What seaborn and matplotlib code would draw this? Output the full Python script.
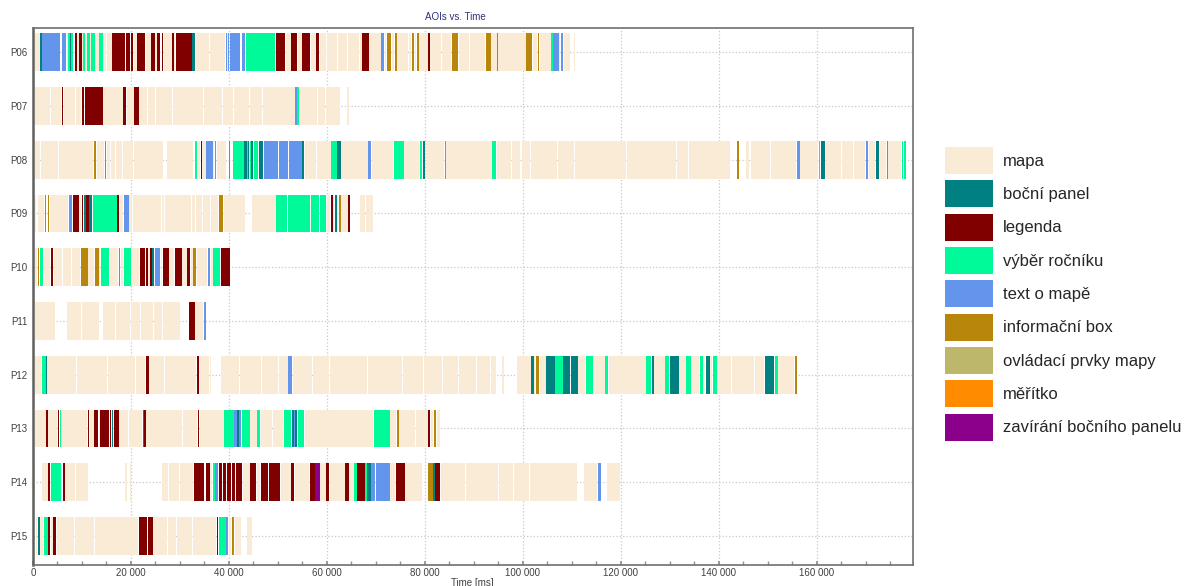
import matplotlib
matplotlib.use("Agg")
import matplotlib.pyplot as plt
from matplotlib.patches import Patch
from matplotlib.ticker import FuncFormatter, MultipleLocator
import pandas as pd
import seaborn as sns

# AOI categories
aoi_keys = ["M", "B", "L", "V", "T", "I", "O", "R", "Z"]
aoi_labels = ["mapa", "boční panel", "legenda", "výběr ročníku", "text o mapě",
              "informační box", "ovládací prvky mapy", "měřítko",
              "zavírání bočního panelu"]
aoi_colors = ["#FAEBD7", "#008080", "#800000", "#00FA9A", "#6495ED",
              "#B8860B", "#BDB76B", "#FF8C00", "#8B008B"]

participants = ["P06", "P07", "P08", "P09", "P10", "P11", "P12", "P13", "P14", "P15"]

# fixations per participant: (start ms, end ms, AOI)
p06 = [(0, 1400, "M"), (1500, 1800, "B"), (1900, 4000, "T"), (4100, 5600, "T"),
       (6000, 6800, "T"), (6850, 7150, "M"), (7200, 7600, "V"), (7600, 7800, "B"),
       (7800, 8200, "V"), (8500, 9000, "L"), (9000, 9300, "M"), (9300, 10000, "L"),
       (10000, 10200, "M"), (10200, 10700, "V"), (10700, 11000, "M"), (11000, 11600, "V"),
       (11600, 11900, "M"), (11900, 12600, "V"), (12600, 13400, "M"), (13400, 14200, "V"),
       (14300, 15000, "M"), (15100, 16100, "M"), (16200, 18700, "L"), (18900, 19800, "L"),
       (19900, 20500, "L"), (20600, 21200, "M"), (21300, 22900, "L"), (23000, 24000, "M"),
       (24100, 25000, "L"), (25000, 25300, "M"), (25300, 26000, "L"), (26100, 26200, "M"),
       (26300, 26600, "L"), (26700, 28300, "M"), (28400, 28700, "L"), (28700, 29000, "M"),
       (29100, 32400, "L"), (32500, 33100, "B"), (33200, 34600, "M"), (34700, 36000, "M"),
       (36100, 37500, "M"), (37600, 39100, "M"), (39300, 39500, "T"), (39500, 39800, "M"),
       (39800, 40100, "T"), (40300, 42300, "T"), (42700, 43300, "T"), (43500, 45700, "V"),
       (45800, 46700, "V"), (46800, 49400, "V"), (49500, 51500, "L"), (51600, 52600, "M"),
       (52700, 53900, "L"), (54000, 54800, "M"), (54900, 56600, "L"), (56700, 57700, "M"),
       (57800, 58300, "L"), (58500, 59900, "M"), (60000, 62100, "M"), (62200, 64100, "M"),
       (64200, 66600, "M"), (66700, 67100, "M"), (67200, 68500, "L"), (68600, 71000, "M"),
       (71100, 71600, "T"), (71800, 72100, "M"), (72200, 73100, "I"), (73200, 73700, "M"),
       (73800, 74200, "I"), (74300, 76600, "M"), (76700, 77200, "M"), (77300, 77800, "I"),
       (77900, 78200, "M"), (78300, 78700, "I"), (78800, 80600, "M"), (80700, 81000, "L"),
       (81100, 83300, "M"), (83400, 85400, "M"), (85500, 86800, "I"), (86900, 89000, "M"),
       (89100, 92300, "M"), (92400, 93400, "I"), (93500, 94600, "M"), (94700, 94900, "I"),
       (95000, 97500, "M"), (97600, 100600, "M"), (100700, 101900, "I"), (102000, 102900, "M"),
       (103000, 103300, "I"), (103400, 105700, "M"), (105800, 106200, "V"), (106200, 107300, "T"),
       (107400, 107600, "M"), (107700, 108200, "T"), (108300, 109600, "M"), (110400, 110700, "M")]

p07 = [(300, 3500, "M"), (3600, 5800, "M"), (5900, 6200, "L"), (6300, 8600, "M"),
       (8700, 9800, "M"), (9900, 10500, "L"), (10600, 11400, "L"), (11500, 14200, "L"),
       (14300, 16500, "M"), (16600, 18300, "M"), (18400, 19000, "L"), (19100, 20600, "M"),
       (20700, 21600, "L"), (21700, 23300, "M"), (23400, 25000, "M"), (25100, 26900, "M"),
       (27000, 28400, "M"), (28500, 31200, "M"), (31300, 31600, "M"), (31700, 34700, "M"),
       (34800, 36300, "M"), (36400, 38600, "M"), (38700, 40900, "M"), (41000, 44100, "M"),
       (44200, 46800, "M"), (46900, 49500, "M"), (49600, 53400, "M"), (53500, 53800, "T"),
       (53900, 54200, "V"), (54300, 55700, "M"), (55800, 56900, "M"), (57000, 58000, "M"),
       (58100, 59600, "M"), (59700, 62700, "M"), (64000, 64500, "M")]

p08 = [(0, 1400, "M"), (1600, 4200, "M"), (4300, 5200, "M"), (5300, 9300, "M"),
       (9400, 12300, "M"), (12400, 12900, "I"), (13000, 14400, "M"), (14600, 14900, "I"),
       (15100, 15800, "M"), (15900, 16800, "M"), (16900, 17500, "M"), (17600, 18200, "M"),
       (18300, 20500, "M"), (20700, 24000, "M"), (24100, 26600, "M"), (27400, 30000, "M"),
       (30100, 32700, "M"), (33000, 33500, "V"), (33600, 34100, "M"), (34200, 34400, "L"),
       (34500, 35300, "M"), (35400, 36700, "T"), (36800, 37000, "M"), (37100, 37400, "T"),
       (37600, 39400, "M"), (40100, 40300, "I"), (40800, 42600, "V"), (42700, 43000, "V"),
       (43000, 43600, "B"), (43600, 43800, "V"), (43800, 44100, "B"), (44200, 44500, "V"),
       (44500, 45000, "B"), (45200, 46000, "V"), (46200, 47000, "B"), (47100, 50100, "T"),
       (50200, 50800, "T"), (50900, 52100, "T"), (52200, 54800, "T"), (54900, 55400, "B"),
       (55500, 57800, "M"), (57900, 60800, "M"), (60900, 62000, "V"), (62100, 62800, "B"),
       (62900, 65500, "M"), (65600, 68300, "M"), (68400, 69000, "T"), (69100, 71600, "M"),
       (71700, 73500, "M"), (73600, 75700, "V"), (75800, 78800, "M"), (78900, 79300, "V"),
       (79500, 80100, "B"), (80200, 83900, "M"), (84000, 84200, "T"), (84300, 86500, "M"),
       (86600, 89800, "M"), (89900, 93600, "M"), (93700, 94500, "V"), (94600, 95500, "M"),
       (95600, 97600, "M"), (97700, 99400, "M"), (99900, 101500, "M"), (101600, 104000, "M"),
       (104100, 107000, "M"), (107100, 110500, "M"), (110600, 113000, "M"), (113100, 115700, "M"),
       (115800, 118100, "M"), (118200, 121100, "M"), (121200, 126900, "M"), (127000, 131300, "M"),
       (131400, 133700, "M"), (133800, 139500, "M"), (139600, 142300, "M"), (143700, 144100, "I"),
       (145500, 146200, "M"), (146600, 150500, "M"), (150600, 155800, "M"), (155900, 156500, "T"),
       (156600, 160300, "M"), (160400, 160700, "V"), (160800, 161700, "B"), (161800, 163200, "M"),
       (163300, 165000, "M"), (165100, 167400, "M"), (167500, 169900, "M"), (170000, 170500, "T"),
       (170600, 171900, "M"), (172000, 172700, "B"), (172800, 174100, "M"), (174200, 174500, "I"),
       (174600, 177200, "M"), (177300, 177600, "V"), (177700, 178200, "V")]

p09 = [(0, 700, "M"), (1100, 2300, "M"), (2400, 2700, "I"), (3000, 3300, "I"),
       (3400, 5500, "M"), (5600, 7200, "M"), (7300, 8000, "T"), (8100, 9400, "L"),
       (9400, 9800, "M"), (9900, 10300, "L"), (10500, 10900, "B"), (10900, 11500, "L"),
       (11500, 12100, "B"), (12200, 17200, "V"), (17200, 17600, "L"), (17700, 18400, "M"),
       (18500, 19500, "T"), (19600, 20200, "M"), (20400, 26100, "M"), (26300, 26800, "M"),
       (27000, 32300, "M"), (32500, 33100, "M"), (33300, 34500, "M"), (34700, 36200, "M"),
       (36400, 37800, "M"), (37900, 38800, "I"), (38900, 43300, "M"), (44600, 49500, "M"),
       (49600, 51800, "V"), (52000, 56600, "V"), (56800, 58300, "V"), (58500, 59900, "V"),
       (60000, 60600, "M"), (60800, 61200, "L"), (61300, 61500, "M"), (61700, 62000, "B"),
       (62100, 62300, "M"), (62400, 62800, "I"), (62900, 64200, "M"), (64300, 64700, "L"),
       (66700, 67700, "M"), (67900, 69400, "M")]

p10 = [(500, 900, "M"), (1000, 1200, "I"), (1400, 2100, "V"), (2200, 3500, "M"),
       (3600, 4100, "L"), (4200, 6000, "M"), (6100, 7800, "M"), (7900, 9600, "M"),
       (9700, 11200, "I"), (11300, 12500, "M"), (12600, 13400, "I"), (13500, 13700, "M"),
       (13800, 15600, "V"), (15700, 17400, "M"), (17600, 17800, "I"), (17900, 18400, "M"),
       (18500, 20000, "V"), (20100, 21700, "M"), (21800, 22900, "L"), (23000, 23400, "L"),
       (23500, 23800, "M"), (23900, 24300, "L"), (24300, 24600, "B"), (25000, 26000, "T"),
       (26100, 26400, "M"), (26500, 27700, "L"), (27800, 28800, "M"), (28900, 30400, "L"),
       (30500, 31400, "M"), (31500, 32100, "L"), (32200, 32600, "M"), (32700, 33300, "I"),
       (33400, 35600, "M"), (35700, 36200, "T"), (36300, 36700, "M"), (36800, 38200, "V"),
       (38300, 39100, "L"), (39200, 39800, "L"), (39900, 40300, "L")]

p11 = [(200, 2000, "M"), (2100, 4500, "M"), (7000, 9800, "M"), (9900, 13500, "M"),
       (14300, 16700, "M"), (16900, 19800, "M"), (20000, 21800, "M"), (22000, 24500, "M"),
       (24700, 26400, "M"), (26600, 30000, "M"), (31900, 33000, "L"), (33100, 34700, "M"),
       (35000, 35400, "T")]

p12 = [(0, 1700, "M"), (1800, 2600, "V"), (2600, 2800, "B"), (2900, 5500, "M"),
       (5600, 8800, "M"), (8900, 12000, "M"), (12100, 15200, "M"), (15300, 18500, "M"),
       (18600, 20900, "M"), (21000, 22900, "M"), (23000, 23600, "L"), (23700, 26800, "M"),
       (26900, 30000, "M"), (30100, 33300, "M"), (33400, 33800, "L"), (33900, 35900, "M"),
       (36100, 36300, "M"), (38300, 42100, "M"), (42200, 46600, "M"), (46700, 50100, "M"),
       (50200, 52000, "M"), (52100, 52900, "T"), (53000, 57000, "M"), (57100, 60500, "M"),
       (60600, 64400, "M"), (64500, 68200, "M"), (68300, 72200, "M"), (72300, 75400, "M"),
       (75500, 79600, "M"), (79700, 83500, "M"), (83600, 86800, "M"), (86900, 90500, "M"),
       (90600, 93300, "M"), (93500, 94500, "M"), (95700, 96100, "M"), (98800, 101600, "M"),
       (101700, 102200, "B"), (102300, 102500, "M"), (102700, 103300, "I"), (103400, 104600, "M"),
       (104700, 106500, "B"), (106600, 108100, "V"), (108200, 109600, "B"), (109800, 111200, "B"),
       (111300, 112700, "M"), (112800, 114200, "V"), (114300, 116700, "M"), (116800, 117400, "V"),
       (117500, 121000, "M"), (121100, 125100, "M"), (125200, 126200, "V"), (126300, 126700, "B"),
       (126800, 128900, "M"), (129000, 129900, "V"), (130000, 131800, "B"), (131900, 133200, "M"),
       (133300, 134200, "V"), (134300, 136000, "M"), (136100, 136700, "V"), (136800, 137200, "M"),
       (137300, 138100, "B"), (138200, 138600, "M"), (138700, 139600, "V"), (139700, 142500, "M"),
       (142600, 145100, "M"), (145200, 147200, "M"), (147300, 149200, "M"), (149300, 151300, "B"),
       (151400, 152000, "V"), (152100, 153600, "M"), (153700, 155400, "M"), (155500, 156000, "I")]

p13 = [(400, 2600, "M"), (2700, 3000, "L"), (3000, 5000, "M"), (5100, 5400, "L"),
       (5500, 5700, "V"), (5800, 8300, "M"), (8400, 11100, "M"), (11200, 11500, "L"),
       (11600, 12400, "M"), (12500, 13300, "L"), (13400, 13600, "M"), (13700, 15500, "L"),
       (15700, 16000, "L"), (16100, 16400, "B"), (16500, 17500, "L"), (17600, 19400, "M"),
       (19500, 22300, "M"), (22400, 22700, "B"), (22700, 23000, "L"), (23100, 26900, "M"),
       (27000, 30500, "M"), (30600, 33500, "M"), (33600, 33900, "L"), (34000, 36500, "M"),
       (36600, 38900, "M"), (39000, 41000, "V"), (41100, 41600, "T"), (41600, 42000, "B"),
       (42000, 42500, "T"), (42600, 44200, "V"), (44300, 45700, "M"), (45800, 46400, "V"),
       (46500, 48800, "M"), (48900, 51100, "M"), (51200, 52700, "V"), (52800, 53200, "B"),
       (53200, 53400, "T"), (53400, 53900, "B"), (54000, 55400, "V"), (55500, 58900, "M"),
       (59000, 62600, "M"), (62700, 66300, "M"), (66400, 69400, "M"), (69500, 72800, "V"),
       (72900, 74100, "M"), (74200, 74700, "I"), (74800, 78000, "M"), (78100, 80600, "M"),
       (80700, 81100, "L"), (81200, 81600, "M"), (81800, 82300, "I"), (82400, 83100, "M")]

p14 = [(200, 500, "M"), (1900, 3000, "M"), (3100, 3500, "L"), (3600, 5700, "V"),
       (5800, 6000, "M"), (6100, 6500, "L"), (6600, 8600, "M"), (8700, 11300, "M"),
       (18700, 19100, "M"), (19700, 20100, "M"), (26400, 27500, "M"), (27700, 29700, "M"),
       (29900, 32700, "M"), (32800, 35000, "L"), (35300, 36100, "L"), (36200, 36600, "M"),
       (36700, 37200, "V"), (37200, 37800, "T"), (37900, 38600, "L"), (38800, 39300, "L"),
       (39500, 40500, "L"), (40700, 41300, "L"), (41500, 42700, "L"), (42800, 44200, "M"),
       (44300, 45600, "L"), (45700, 46400, "M"), (46500, 47900, "L"), (48100, 50500, "L"),
       (50600, 52600, "M"), (52700, 53300, "L"), (53400, 56400, "M"), (56500, 57500, "L"),
       (57600, 58500, "Z"), (58600, 59700, "M"), (59800, 60500, "L"), (60600, 63600, "M"),
       (63700, 64400, "L"), (64500, 65500, "M"), (65600, 66100, "V"), (66200, 67700, "L"),
       (67800, 68200, "V"), (68200, 68900, "B"), (69000, 69900, "T"), (70100, 72800, "T"),
       (72900, 73900, "M"), (74000, 75900, "L"), (76000, 79300, "M"), (80700, 81600, "I"),
       (81600, 82100, "B"), (82100, 83100, "L"), (83200, 85500, "M"), (85600, 88200, "M"),
       (88300, 92000, "M"), (92100, 95000, "M"), (95100, 98000, "M"), (98100, 101300, "M"),
       (101400, 104000, "M"), (104100, 107500, "M"), (107600, 111000, "M"), (112400, 113600, "M"),
       (113700, 115100, "M"), (115400, 115900, "T"), (117200, 119900, "M")]

p15 = [(700, 900, "M"), (1000, 1400, "B"), (1500, 2100, "M"), (2200, 3100, "V"),
       (3100, 3500, "L"), (3600, 4000, "M"), (4100, 4700, "L"), (4800, 6500, "M"),
       (6600, 8400, "M"), (8500, 12500, "M"), (12600, 15500, "M"), (15600, 19500, "M"),
       (19600, 21500, "M"), (21600, 23300, "L"), (23500, 24400, "L"), (24500, 27300, "M"),
       (27600, 29200, "M"), (29400, 32400, "M"), (32600, 34900, "M"), (35000, 37400, "M"),
       (37500, 37800, "L"), (37900, 39400, "V"), (39400, 39900, "T"), (40000, 40400, "M"),
       (40600, 41100, "I"), (41200, 42500, "M"), (43700, 44700, "M")]

rows = [p06, p07, p08, p09, p10, p11, p12, p13, p14, p15]

records = []
for name, segs in zip(participants, rows):
    for start, end, key in segs:
        records.append({"participant": name, "start": start,
                        "duration": end - start, "aoi": key})
df = pd.DataFrame(records)
color_of = dict(zip(aoi_keys, aoi_colors))
row_of = {p: i for i, p in enumerate(participants)}

sns.set_theme(style="whitegrid", rc={
    "grid.color": "#c8c8c8", "grid.linestyle": ":", "grid.linewidth": 0.9,
    "axes.edgecolor": "#707070", "axes.linewidth": 1.2,
})
plt.rcParams["font.family"] = ["Liberation Sans", "DejaVu Sans"]

fig = plt.figure(figsize=(11.92, 5.86), dpi=100)
ax = fig.add_axes([33 / 1192, 1 - 565 / 586, (912.5 - 33) / 1192, (565 - 28) / 586])

ax.barh(df["participant"].map(row_of), df["duration"], left=df["start"],
        height=0.7, color=df["aoi"].map(color_of), linewidth=0, zorder=2)

ax.set_xlim(0, 179500)
ax.set_ylim(9.54, -0.45)
ax.set_yticks(range(len(participants)))
ax.set_yticklabels(participants)
ax.xaxis.set_major_locator(MultipleLocator(20000))
ax.xaxis.set_minor_locator(MultipleLocator(5000))
ax.xaxis.set_major_formatter(FuncFormatter(lambda v, _: f"{int(v):,}".replace(",", " ")))
ax.tick_params(axis="both", labelsize=7, colors="#404040")
ax.tick_params(axis="x", which="both", bottom=True, direction="in", length=3,
               color="#909090", pad=2)
ax.tick_params(axis="y", left=False, length=0, pad=4)
ax.grid(True, axis="both", zorder=0)
ax.set_axisbelow(True)
ax.spines["left"].set_linewidth(1.8)
ax.spines["left"].set_color("#606060")

ax.set_title("AOIs vs. Time", fontsize=7, color="#303080",
             x=(455 - 33) / (912.5 - 33), pad=6)
ax.set_xlabel("Time [ms]", fontsize=7, color="#404040", labelpad=0)

handles = [Patch(facecolor=c, edgecolor="none", label=l)
           for c, l in zip(aoi_colors, aoi_labels)]
fig.legend(handles=handles, loc="upper left",
           bbox_to_anchor=(945 / 1192, 1 - 147 / 586), frameon=False,
           fontsize=12, handlelength=2.88, handleheight=2.13,
           handletextpad=0.6, labelspacing=0.37, borderpad=0, borderaxespad=0)

fig.savefig("out.png", dpi=100)
